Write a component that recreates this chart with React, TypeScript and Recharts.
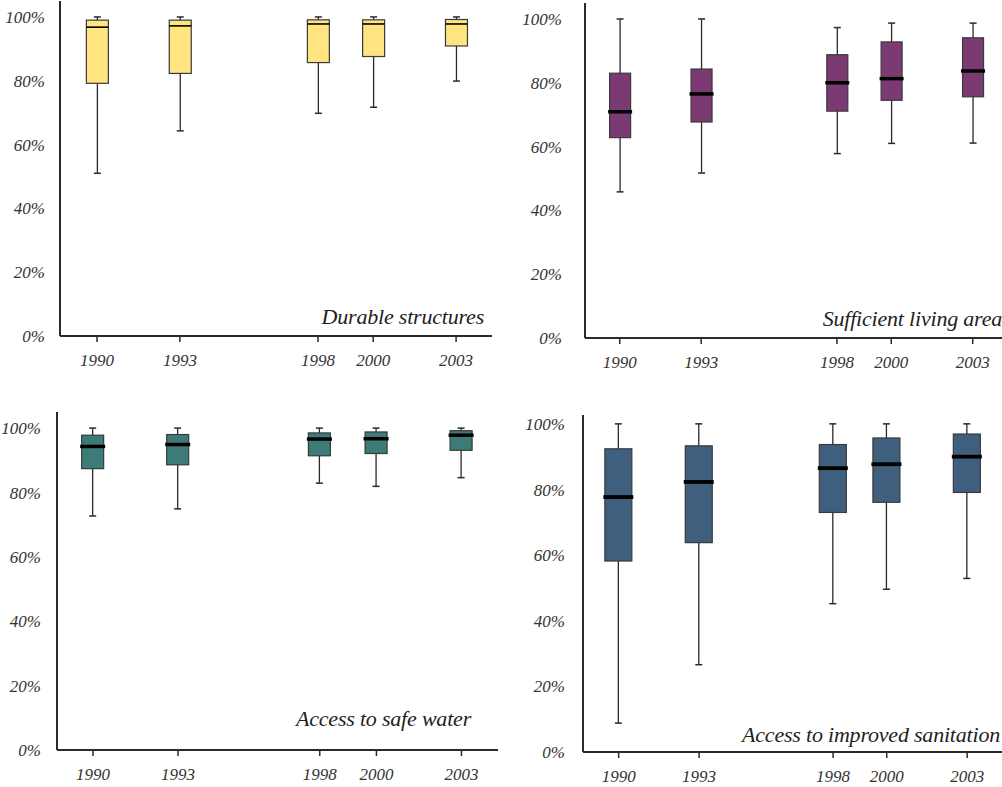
import React from "react";
import { Bar, ComposedChart, XAxis, YAxis } from "recharts";

const YEARS = [1990, 1993, 1998, 2000, 2003];
const PCT_TICKS = [0, 20, 40, 60, 80, 100];

// Durable structures
const durableMin = [51, 64.3, 69.8, 71.7, 79.9];
const durableQ1 = [79.2, 82.3, 85.7, 87.6, 90.9];
const durableMedian = [96.8, 97.2, 97.8, 97.8, 97.8];
const durableQ3 = [99, 99, 99.1, 99.1, 99.2];
const durableMax = [100, 100, 100, 100, 100];

// Sufficient living area
const livingMin = [45.8, 51.7, 57.8, 61, 61.1];
const livingQ1 = [62.8, 67.7, 71.1, 74.5, 75.6];
const livingMedian = [70.9, 76.5, 80, 81.3, 83.7];
const livingQ3 = [83, 84.3, 88.8, 92.8, 94.1];
const livingMax = [100, 100, 97.3, 98.7, 98.7];

// Access to safe water
const waterMin = [72.7, 74.9, 82.9, 81.9, 84.6];
const waterQ1 = [87.4, 88.6, 91.4, 92.1, 93.1];
const waterMedian = [94.3, 94.9, 96.6, 96.7, 97.8];
const waterQ3 = [97.8, 98, 98.5, 98.8, 99.2];
const waterMax = [100, 100, 100, 100, 100];

// Access to improved sanitation
const sanitationMin = [8.8, 26.6, 45.2, 49.6, 52.9];
const sanitationQ1 = [58.2, 63.8, 73, 76.1, 79.1];
const sanitationMedian = [77.7, 82.3, 86.5, 87.7, 90];
const sanitationQ3 = [92.4, 93.3, 93.7, 95.7, 96.9];
const sanitationMax = [100, 100, 100, 100, 100];

type Row = { year: number; min: number; q1: number; median: number; q3: number; max: number };

const rows = (min: number[], q1: number[], median: number[], q3: number[], max: number[]): Row[] =>
  YEARS.map((year, i) => ({ year, min: min[i], q1: q1[i], median: median[i], q3: q3[i], max: max[i] }));

const FONT = "'Liberation Serif', 'Times New Roman', serif";
const INK = "#2a2a2a";

const tickStyle = { fill: "#333", fontSize: 17, fontStyle: "italic", fontFamily: FONT };

function BoxShape(props: any) {
  const { x, y, width, height, payload, fill, medianWidth } = props;
  const top = Math.min(y, y + height);
  const h = Math.abs(height);
  const { min, q1, median, q3, max } = payload as Row;
  // the bar spans min..max, so interpolate inside it on the same linear scale
  const py = (v: number) => top + (h * (max - v)) / (max - min);
  const cx = x + width / 2;
  const cap = 3.5;
  const over = medianWidth > 2 ? 1.5 : 0;
  return (
    <g>
      <line x1={cx} x2={cx} y1={py(max)} y2={py(min)} stroke={INK} strokeWidth={1.3} />
      <line x1={cx - cap} x2={cx + cap} y1={py(max)} y2={py(max)} stroke={INK} strokeWidth={1.5} />
      <line x1={cx - cap} x2={cx + cap} y1={py(min)} y2={py(min)} stroke={INK} strokeWidth={1.5} />
      <rect
        x={x}
        y={py(q3)}
        width={width}
        height={py(q1) - py(q3)}
        fill={fill}
        stroke="#3a3a3a"
        strokeWidth={1.2}
      />
      <line
        x1={x - over}
        x2={x + width + over}
        y1={py(median)}
        y2={py(median)}
        stroke="#000"
        strokeWidth={medianWidth}
      />
    </g>
  );
}

type PanelProps = {
  left: number;
  top: number;
  width: number;
  height: number;
  marginTop: number;
  marginRight: number;
  yAxisWidth: number;
  xAxisHeight: number;
  xDomain: [number, number];
  yMax: number;
  labelGap: number;
  data: Row[];
  fill: string;
  boxWidth: number;
  medianWidth: number;
};

function Panel(p: PanelProps) {
  return (
    <div style={{ position: "absolute", left: p.left, top: p.top }}>
      <ComposedChart
        width={p.width}
        height={p.height}
        data={p.data}
        margin={{ top: p.marginTop, right: p.marginRight, left: 0, bottom: 0 }}
      >
        <XAxis
          dataKey="year"
          type="number"
          domain={p.xDomain}
          ticks={YEARS}
          allowDataOverflow
          height={p.xAxisHeight}
          tick={tickStyle}
          tickSize={6}
          tickMargin={12}
          tickLine={{ stroke: INK, strokeWidth: 1.5 }}
          axisLine={{ stroke: INK, strokeWidth: 2 }}
        />
        <YAxis
          type="number"
          domain={[0, p.yMax]}
          ticks={PCT_TICKS}
          allowDataOverflow
          width={p.yAxisWidth}
          tick={tickStyle}
          tickFormatter={(v) => `${v}%`}
          tickLine={false}
          tickSize={0}
          tickMargin={p.labelGap}
          axisLine={{ stroke: INK, strokeWidth: 2 }}
        />
        <Bar
          dataKey={(d: Row) => [d.min, d.max]}
          barSize={p.boxWidth}
          isAnimationActive={false}
          shape={(s: any) => <BoxShape {...s} fill={p.fill} medianWidth={p.medianWidth} />}
        />
      </ComposedChart>
    </div>
  );
}

const titleStyle: React.CSSProperties = {
  position: "absolute",
  fontFamily: FONT,
  fontStyle: "italic",
  fontSize: 22,
  letterSpacing: -0.2,
  color: "#1e1e1e",
  whiteSpace: "nowrap",
  lineHeight: "26px",
};

export default function App() {
  return (
    <div
      style={{
        position: "absolute",
        left: 0,
        top: 0,
        width: 1002,
        height: 787,
        overflow: "hidden",
        background: "#fff",
      }}
    >
      <Panel
        left={0}
        top={0}
        width={500}
        height={400}
        marginTop={1}
        marginRight={8}
        yAxisWidth={60}
        xAxisHeight={64}
        xDomain={[1988.66, 2004.3]}
        yMax={105}
        labelGap={15}
        data={rows(durableMin, durableQ1, durableMedian, durableQ3, durableMax)}
        fill="#ffe47f"
        boxWidth={22}
        medianWidth={1.6}
      />
      <Panel
        left={500}
        top={0}
        width={510}
        height={400}
        marginTop={3}
        marginRight={2}
        yAxisWidth={85}
        xAxisHeight={62}
        xDomain={[1988.72, 2004.3]}
        yMax={105}
        labelGap={23}
        data={rows(livingMin, livingQ1, livingMedian, livingQ3, livingMax)}
        fill="#7b3a72"
        boxWidth={21}
        medianWidth={3.5}
      />
      <Panel
        left={0}
        top={400}
        width={500}
        height={387}
        marginTop={12}
        marginRight={2}
        yAxisWidth={57}
        xAxisHeight={37}
        xDomain={[1988.73, 2004.29]}
        yMax={105}
        labelGap={16}
        data={rows(waterMin, waterQ1, waterMedian, waterQ3, waterMax)}
        fill="#3d7b78"
        boxWidth={22}
        medianWidth={3.5}
      />
      <Panel
        left={500}
        top={400}
        width={510}
        height={387}
        marginTop={15}
        marginRight={8}
        yAxisWidth={83}
        xAxisHeight={35}
        xDomain={[1988.67, 2004.3]}
        yMax={102.7}
        labelGap={18}
        data={rows(sanitationMin, sanitationQ1, sanitationMedian, sanitationQ3, sanitationMax)}
        fill="#3e5f7e"
        boxWidth={27}
        medianWidth={3.8}
      />

      <div style={{ ...titleStyle, right: 1002 - 484, top: 304 }}>Durable structures</div>
      <div style={{ ...titleStyle, right: 0, top: 306 }}>Sufficient living area</div>
      <div style={{ ...titleStyle, right: 1002 - 471, top: 706 }}>Access to safe water</div>
      <div style={{ ...titleStyle, right: 2, top: 722 }}>Access to improved sanitation</div>
    </div>
  );
}
